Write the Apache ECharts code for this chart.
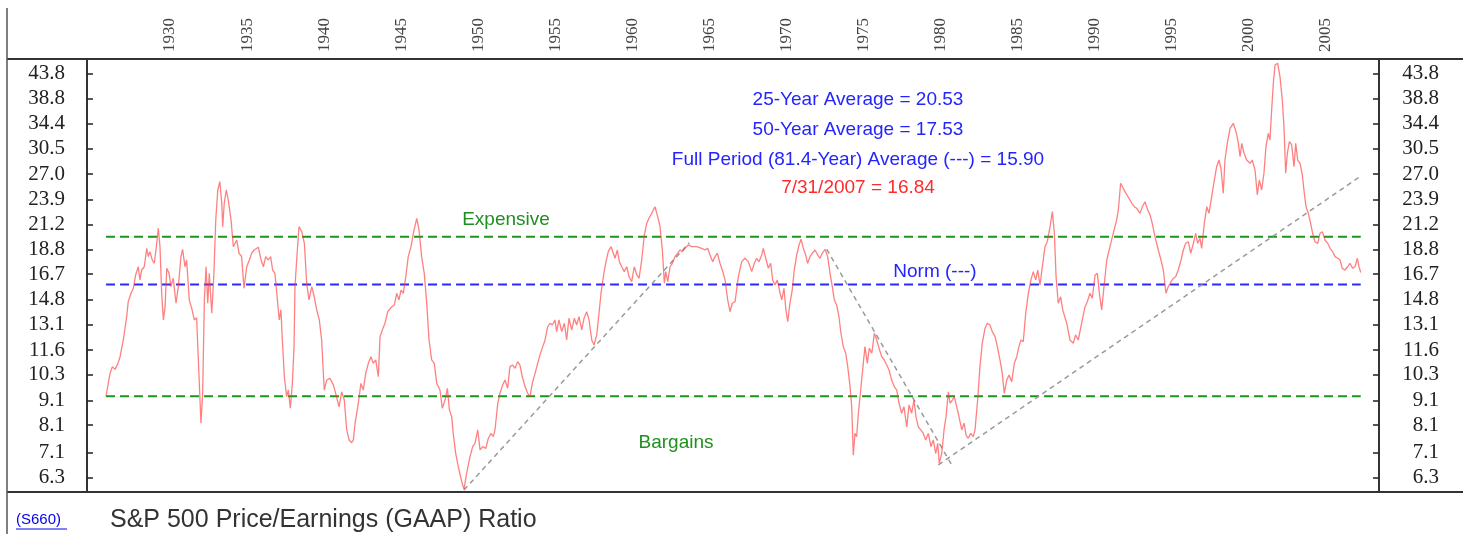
<!DOCTYPE html>
<html>
<head>
<meta charset="utf-8">
<script src="https://cdn.jsdelivr.net/npm/echarts@6/dist/echarts.min.js"></script>
<style>
html,body{margin:0;padding:0;background:#fff;}
#chart{width:1463px;height:534px;}
</style>
</head>
<body>
<div id="chart"></div>
<script>
// ---- data ----
const years = [1925.85,1926.11,1926.26,1926.43,1926.61,1926.76,1926.97,1927.19,1927.29,1927.47,1927.62,1927.77,1927.94,1928.05,1928.16,1928.33,1928.49,1928.59,1928.70,1928.85,1928.98,1929.09,1929.24,1929.35,1929.46,1929.57,1929.68,1929.79,1929.94,1930.06,1930.21,1930.39,1930.54,1930.71,1930.82,1930.97,1931.08,1931.25,1931.41,1931.58,1931.73,1931.84,1932.01,1932.12,1932.23,1932.34,1932.45,1932.55,1932.71,1932.84,1932.97,1933.10,1933.23,1933.36,1933.42,1933.52,1933.65,1933.78,1933.96,1934.11,1934.33,1934.48,1934.65,1934.80,1934.98,1935.15,1935.30,1935.47,1935.73,1935.91,1936.06,1936.21,1936.38,1936.53,1936.66,1936.81,1936.99,1937.09,1937.20,1937.29,1937.42,1937.57,1937.68,1937.81,1937.94,1938.05,1938.11,1938.22,1938.37,1938.55,1938.72,1938.87,1939.02,1939.20,1939.36,1939.52,1939.69,1939.84,1940.01,1940.17,1940.38,1940.60,1940.75,1940.97,1941.14,1941.31,1941.47,1941.62,1941.79,1941.90,1942.01,1942.22,1942.39,1942.54,1942.70,1942.87,1943.04,1943.19,1943.35,1943.52,1943.63,1943.78,1943.95,1944.13,1944.39,1944.56,1944.71,1944.86,1944.99,1945.14,1945.30,1945.46,1945.64,1945.79,1946.01,1946.16,1946.33,1946.50,1946.66,1946.81,1946.98,1947.15,1947.31,1947.52,1947.67,1947.85,1948.00,1948.13,1948.28,1948.38,1948.54,1948.71,1948.93,1949.08,1949.25,1949.47,1949.64,1949.79,1949.97,1950.12,1950.29,1950.49,1950.66,1950.83,1950.98,1951.09,1951.27,1951.41,1951.59,1951.74,1951.91,1952.06,1952.24,1952.39,1952.56,1952.71,1952.86,1953.04,1953.21,1953.36,1953.51,1953.69,1953.86,1954.01,1954.19,1954.34,1954.51,1954.66,1954.81,1954.98,1955.09,1955.24,1955.42,1955.59,1955.74,1955.89,1956.07,1956.24,1956.39,1956.54,1956.72,1956.87,1957.04,1957.19,1957.37,1957.52,1957.69,1957.84,1957.97,1958.12,1958.27,1958.44,1958.62,1958.77,1958.88,1959.03,1959.16,1959.31,1959.48,1959.64,1959.79,1959.96,1960.13,1960.29,1960.44,1960.61,1960.78,1960.94,1961.08,1961.26,1961.47,1961.65,1961.80,1961.95,1962.08,1962.17,1962.30,1962.45,1962.60,1962.77,1962.95,1963.10,1963.25,1963.42,1963.63,1963.86,1964.18,1964.50,1964.72,1964.89,1965.04,1965.22,1965.37,1965.52,1965.69,1965.84,1966.02,1966.19,1966.34,1966.49,1966.67,1966.88,1967.10,1967.31,1967.53,1967.75,1967.92,1968.07,1968.22,1968.40,1968.50,1968.66,1968.83,1968.98,1969.11,1969.26,1969.41,1969.59,1969.70,1969.84,1969.97,1970.09,1970.23,1970.38,1970.51,1970.67,1970.82,1970.95,1971.10,1971.25,1971.38,1971.53,1971.68,1971.86,1972.03,1972.18,1972.33,1972.51,1972.68,1972.83,1972.98,1973.11,1973.26,1973.41,1973.54,1973.69,1973.85,1973.98,1974.13,1974.24,1974.34,1974.45,1974.56,1974.67,1974.82,1974.99,1975.10,1975.25,1975.38,1975.54,1975.71,1975.86,1976.01,1976.19,1976.35,1976.51,1976.66,1976.83,1977.00,1977.16,1977.31,1977.48,1977.63,1977.81,1977.96,1978.13,1978.28,1978.41,1978.56,1978.72,1978.88,1979.04,1979.21,1979.38,1979.53,1979.69,1979.82,1979.92,1980.08,1980.23,1980.36,1980.51,1980.62,1980.77,1980.90,1981.05,1981.20,1981.38,1981.53,1981.66,1981.80,1981.96,1982.13,1982.24,1982.41,1982.56,1982.71,1982.89,1983.04,1983.21,1983.36,1983.54,1983.69,1983.86,1984.01,1984.14,1984.30,1984.45,1984.62,1984.79,1984.95,1985.09,1985.22,1985.37,1985.53,1985.70,1985.87,1986.02,1986.18,1986.31,1986.46,1986.61,1986.78,1986.93,1987.11,1987.26,1987.39,1987.50,1987.64,1987.80,1987.93,1988.19,1988.40,1988.62,1988.77,1988.94,1989.16,1989.38,1989.53,1989.70,1989.85,1990.03,1990.18,1990.31,1990.46,1990.61,1990.79,1991.00,1991.21,1991.43,1991.54,1991.69,1991.86,1992.04,1992.23,1992.41,1992.58,1992.73,1992.95,1993.10,1993.27,1993.45,1993.60,1993.74,1993.92,1994.13,1994.31,1994.46,1994.63,1994.78,1994.96,1995.11,1995.26,1995.43,1995.61,1995.76,1995.91,1996.08,1996.24,1996.41,1996.56,1996.69,1996.84,1996.95,1997.12,1997.28,1997.42,1997.60,1997.77,1997.92,1998.07,1998.20,1998.35,1998.46,1998.61,1998.79,1999.00,1999.18,1999.33,1999.44,1999.55,1999.70,1999.87,2000.09,2000.23,2000.41,2000.56,2000.69,2000.84,2000.99,2001.12,2001.27,2001.38,2001.49,2001.60,2001.71,2001.88,2002.03,2002.18,2002.29,2002.40,2002.51,2002.64,2002.79,2002.94,2003.05,2003.18,2003.33,2003.48,2003.61,2003.72,2003.87,2004.02,2004.15,2004.30,2004.48,2004.63,2004.78,2004.95,2005.13,2005.28,2005.45,2005.60,2005.78,2005.93,2006.07,2006.25,2006.42,2006.57,2006.75,2006.90,2007.05,2007.16,2007.27];
const peRatio = [9.31,10.38,10.72,10.58,10.86,11.24,12.18,13.62,14.64,15.24,15.61,16.64,17.31,16.25,17.04,17.31,18.91,18.17,18.61,17.88,17.60,18.76,20.82,19.06,15.24,13.41,14.29,17.18,16.77,15.73,16.38,14.53,15.73,18.17,18.82,17.31,17.88,14.76,14.18,13.41,13.55,11.07,8.17,9.43,14.76,17.31,14.53,16.77,13.85,16.50,21.67,25.02,26.04,23.47,20.98,23.47,25.02,23.85,21.67,19.06,19.68,18.47,18.17,15.61,17.31,17.88,18.47,18.76,19.01,17.88,17.31,18.17,17.88,18.17,17.04,16.77,14.53,13.41,14.07,12.18,10.21,9.28,9.58,8.78,9.89,11.80,15.73,17.88,20.98,20.48,19.37,15.99,14.76,15.73,14.99,14.07,13.41,12.18,9.58,10.05,10.14,9.82,9.43,8.84,9.50,9.13,7.91,7.54,7.44,7.54,8.17,8.99,9.89,9.58,10.38,10.89,11.24,10.89,11.07,10.21,12.38,12.78,13.20,13.95,14.29,14.41,15.24,14.76,15.48,15.24,16.50,18.17,19.06,20.32,21.84,20.65,18.17,16.77,14.53,12.18,11.07,10.89,9.89,9.58,8.78,9.13,9.66,8.71,8.43,7.78,7.07,6.63,6.17,5.95,6.43,6.96,7.30,7.42,7.91,7.19,7.30,7.24,7.60,7.78,7.66,7.91,8.99,9.43,9.82,10.05,9.66,10.72,10.80,10.63,10.98,10.80,10.21,9.74,9.43,9.28,9.89,10.38,10.89,11.34,11.80,12.18,12.98,13.20,13.09,13.41,12.68,13.41,12.68,13.20,12.18,13.52,12.78,13.52,13.09,13.62,12.78,13.52,13.95,13.41,12.18,11.89,12.48,13.85,15.24,16.50,17.60,18.61,19.06,18.47,18.03,18.76,17.74,17.31,16.91,17.31,16.50,16.11,17.31,16.64,16.38,17.88,20.16,21.32,21.84,22.37,23.09,22.01,20.98,18.76,15.99,16.91,16.11,17.31,17.60,18.17,18.47,18.76,18.61,18.91,19.22,19.06,19.06,18.91,18.76,18.91,18.32,17.74,18.17,18.47,17.60,17.04,16.25,14.76,13.95,14.53,14.64,16.50,17.74,18.03,17.74,16.91,17.60,18.03,17.74,18.32,18.91,18.03,17.18,17.60,16.25,15.86,16.25,15.24,14.76,15.61,14.07,13.30,14.53,15.48,17.04,18.32,19.22,19.75,18.91,18.32,17.60,18.17,18.47,18.76,18.32,18.03,18.47,18.82,18.17,16.77,15.73,14.76,14.41,13.62,12.58,11.80,11.43,10.72,9.74,8.84,7.01,7.78,7.66,8.57,9.58,10.89,11.80,10.89,11.71,11.43,12.58,12.18,11.71,11.24,11.07,10.80,10.55,10.05,9.74,9.58,8.99,8.57,8.84,8.03,8.92,8.57,9.13,8.43,8.03,7.91,7.78,7.54,7.78,7.30,7.54,7.07,7.42,6.74,7.07,7.91,8.43,9.50,8.99,9.13,9.28,8.84,8.43,7.91,8.17,7.72,7.60,7.78,7.66,7.91,9.13,10.72,11.99,12.88,13.20,13.09,12.68,12.38,11.80,11.07,10.38,9.43,10.05,10.30,9.97,10.89,11.24,11.80,12.18,12.08,13.85,15.24,16.25,16.91,16.25,17.04,15.86,17.31,19.06,19.52,20.98,22.55,20.32,16.50,14.53,14.99,14.07,13.20,12.18,11.99,12.48,12.18,13.20,14.29,14.64,15.24,14.88,16.64,16.77,15.24,14.07,15.73,17.88,19.06,20.32,21.67,22.73,25.84,25.22,24.62,24.04,23.47,23.09,22.91,22.37,23.09,23.65,22.73,22.19,21.32,20.00,18.76,17.88,17.04,15.24,15.73,16.11,16.38,16.50,17.04,17.88,18.76,19.37,19.52,18.47,19.37,20.32,19.37,19.84,18.91,21.32,23.09,22.37,24.23,26.25,27.98,28.89,27.77,24.62,28.89,31.30,33.64,34.46,33.10,31.30,29.36,31.30,29.84,28.89,28.44,28.89,27.54,24.43,26.25,25.02,27.11,30.80,32.84,31.80,36.73,41.75,45.58,45.96,43.10,38.53,33.91,27.11,29.84,31.55,31.05,27.98,31.30,28.89,28.44,26.89,24.62,23.09,22.37,21.32,20.32,19.52,19.37,20.32,20.48,19.68,19.37,18.91,18.61,18.17,18.03,17.88,17.18,17.04,17.31,17.60,17.18,17.31,18.03,17.31,16.84];

const xTickYears = [1930,1935,1940,1945,1950,1955,1960,1965,1970,1975,1980,1985,1990,1995,2000,2005];
const yTickLabels = ['6.3','7.1','8.1','9.1','10.3','11.6','13.1','14.8','16.7','18.8','21.2','23.9','27.0','30.5','34.4','38.8','43.8'];

// reference levels
const expensiveLevel = 20.0;
const normLevel = 15.90;
const bargainLevel = 9.3;

// gray trend lines: [year, value] end points
const trend1 = [[1949.08, 5.93], [1963.70, 19.43]];
const trend2 = [[1972.62, 18.82], [1980.73, 6.69]];
const trend3 = [[1979.86, 6.69], [2007.29, 26.76]];

const infoLines = ['25-Year Average = 20.53', '50-Year Average = 17.53', 'Full Period (81.4-Year) Average (---) = 15.90', '7/31/2007 = 16.84'];
const titleText = 'S&P 500 Price/Earnings (GAAP) Ratio';
const linkText = '(S660)';

// ---- chart ----
const chart = echarts.init(document.getElementById('chart'), null, {renderer: 'canvas'});
const lineData = years.map((y, i) => [y, peRatio[i]]);
const firstYear = years[0], lastYear = years[years.length - 1];
const yTickVals = yTickLabels.map(Number);
const labelFmt = v => Number(v).toFixed(1);

const SANS = '"Liberation Sans", Arial, sans-serif';
const SERIF = '"Liberation Serif", "Times New Roman", serif';

function yAxisCfg(pos) {
  return {
    type: 'log', position: pos, min: 5.873, max: 46.91,
    axisLine: {show: true, lineStyle: {color: '#333', width: 2}},
    axisTick: {show: true, inside: true, length: 6, customValues: yTickVals, lineStyle: {color: '#222', width: 1.5}},
    axisLabel: {
      customValues: yTickVals, formatter: labelFmt,
      fontFamily: SERIF, fontSize: 21, color: '#222',
      margin: pos === 'left' ? 22 : 60, align: 'right'
    },
    splitLine: {show: false}, minorTick: {show: false}, minorSplitLine: {show: false}
  };
}

function hLine(level, color) {
  return {
    type: 'line', data: [[firstYear, level], [lastYear, level]], symbol: 'none', silent: true,
    lineStyle: {color: color, width: 2, type: [9, 5]}, z: 2
  };
}
function tLine(pts) {
  return {
    type: 'line', data: pts, symbol: 'none', silent: true,
    lineStyle: {color: '#9a9a9a', width: 1.5, type: [5, 4]}, z: 3
  };
}

const blue = '#2424ff', green = '#1f8f1f', red = '#ff2a2a';

function txt(x, y, text, color, size, align) {
  return {type: 'text', x: x, y: y, silent: true,
    style: {text: text, fill: color, font: size + 'px ' + SANS,
      align: align || 'center', verticalAlign: 'middle',
      textAlign: align || 'center', textVerticalAlign: 'middle'}};
}

const option = {
  animation: false,
  backgroundColor: '#ffffff',
  grid: {left: 87, right: 84, top: 59, bottom: 42, containLabel: false},
  xAxis: {
    type: 'value', position: 'top', min: 1924.614, max: 2008.456,
    axisLine: {show: false}, axisTick: {show: false}, splitLine: {show: false},
    axisLabel: {customValues: xTickYears, rotate: -90, margin: 7, color: '#444',
      fontFamily: SERIF, fontSize: 17, formatter: v => String(Math.round(v))}
  },
  yAxis: [yAxisCfg('left'), yAxisCfg('right')],
  series: [
    hLine(expensiveLevel, '#1a961a'),
    hLine(bargainLevel, '#1a961a'),
    hLine(normLevel, '#2a2aff'),
    tLine(trend1), tLine(trend2), tLine(trend3),
    {
      type: 'line', data: lineData, symbol: 'none', silent: true,
      lineStyle: {color: 'rgba(255,60,60,0.65)', width: 1.3}, z: 4
    }
  ],
  graphic: [
    {type: 'line', silent: true, shape: {x1: 7, y1: 59, x2: 1463, y2: 59}, style: {stroke: '#333', lineWidth: 2}},
    {type: 'line', silent: true, shape: {x1: 7, y1: 492, x2: 1463, y2: 492}, style: {stroke: '#333', lineWidth: 2}},
    {type: 'line', silent: true, shape: {x1: 7, y1: 8, x2: 7, y2: 534}, style: {stroke: '#555', lineWidth: 1.5}},
    txt(858, 100, infoLines[0], blue, 19),
    txt(858, 130, infoLines[1], blue, 19),
    txt(858, 160, infoLines[2], blue, 19),
    txt(858, 188, infoLines[3], red, 19),
    txt(506, 220, 'Expensive', green, 19),
    txt(935, 272, 'Norm (---)', blue, 19),
    txt(676, 443, 'Bargains', green, 19),
    txt(110, 520, titleText, '#333', 25, 'left'),
    txt(16, 520, linkText, '#0000ee', 15, 'left'),
    {type: 'line', silent: true, shape: {x1: 16, y1: 529, x2: 67, y2: 529}, style: {stroke: '#0000ee', lineWidth: 1}}
  ]
};
chart.setOption(option);
</script>
</body>
</html>
